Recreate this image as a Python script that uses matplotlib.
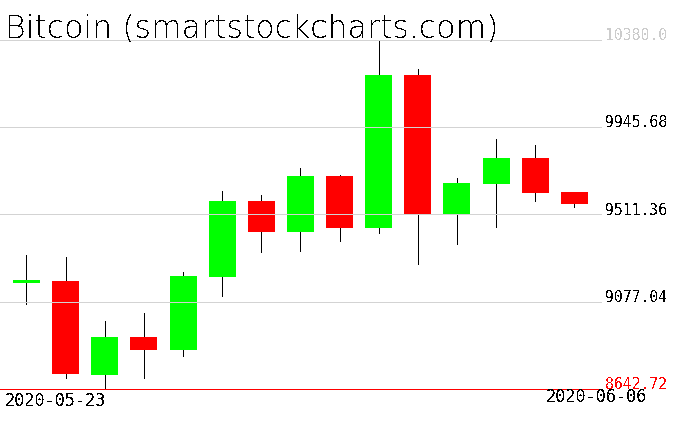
import matplotlib
matplotlib.use("Agg")
import matplotlib.pyplot as plt
import matplotlib.transforms as mtransforms
import numpy as np

plt.rcParams['text.antialiased'] = False

# daily OHLC (2020-05-23 .. 2020-06-06)
dates = ['2020-05-23', '2020-05-24', '2020-05-25', '2020-05-26', '2020-05-27',
         '2020-05-28', '2020-05-29', '2020-05-30', '2020-05-31', '2020-06-01',
         '2020-06-02', '2020-06-03', '2020-06-04', '2020-06-05', '2020-06-06']
opens = [9170, 9181, 8714, 8903, 8840, 9202, 9578, 9426, 9703, 9446,
         10205, 9515, 9663, 9792, 9623]
highs = [9310, 9300, 8982, 9022, 9226, 9628, 9608, 9742, 9706, 10380,
         10234, 9693, 9887, 9857, 9625]
lows = [9068, 8700, 8642.72, 8700, 8810, 9108, 9327, 9331, 9381, 9421,
        9267, 9366, 9451, 9580, 9550]
closes = [9180, 8719, 8903, 8840, 9206, 9578, 9426, 9703, 9446, 10205,
          9515, 9668, 9792, 9618, 9565]

price_levels = [10380.0, 9945.68, 9511.36, 9077.04, 8642.72]
price_labels = ['10380.0', '9945.68', '9511.36', '9077.04', '8642.72']
label_colors = ['#cccccc', 'black', 'black', 'black', 'red']

W, H = 676, 431
fig = plt.figure(figsize=(W / 100, H / 100), dpi=100)
ax = fig.add_axes([0, 40.7 / H, 601 / W, 349.6 / H])

x = np.arange(len(dates))
o = np.array(opens)
c = np.array(closes)
up = c >= o
colors = np.where(up, '#00ff00', '#ff0000')

# wicks sit behind the bodies
ax.vlines(x, lows, highs, color='black', linewidth=0.72, zorder=1,
          antialiased=False)
body = np.maximum(np.abs(c - o), 15)
ax.bar(x, body, bottom=np.minimum(o, c), width=0.69, color=colors,
       linewidth=0, zorder=2, antialiased=False)

# grid is drawn over the candles, bottom line in red
for lvl, col in zip(price_levels, ['#d3d3d3'] * 4 + ['red']):
    ax.axhline(lvl, color=col, linewidth=0.72, zorder=3, clip_on=False,
               antialiased=False)

ax.set_xlim(-0.677, 14.68)
ax.set_ylim(price_levels[-1], price_levels[0])
ax.axis('off')

trans = mtransforms.blended_transform_factory(fig.transFigure, ax.transData)
for lvl, txt, col in zip(price_levels, price_labels, label_colors):
    ax.text(605 / W, lvl + 4, txt, transform=trans, color=col,
            fontsize=10.6, family='DejaVu Sans Mono', va='baseline',
            ha='left', clip_on=False)

fig.text(5 / W, 1 - 406 / H, dates[0], fontsize=12.2,
         family='DejaVu Sans Mono', va='baseline', ha='left')
fig.text(647 / W, 1 - 402 / H, dates[-1], fontsize=12.2,
         family='DejaVu Sans Mono', va='baseline', ha='right')

fig.text(5 / W, 1 - 38 / H, 'Bitcoin (smartstockcharts.com)', fontsize=22.7,
         family='DejaVu Sans', fontweight='light', va='baseline', ha='left')

fig.savefig('out.png', dpi=100)
